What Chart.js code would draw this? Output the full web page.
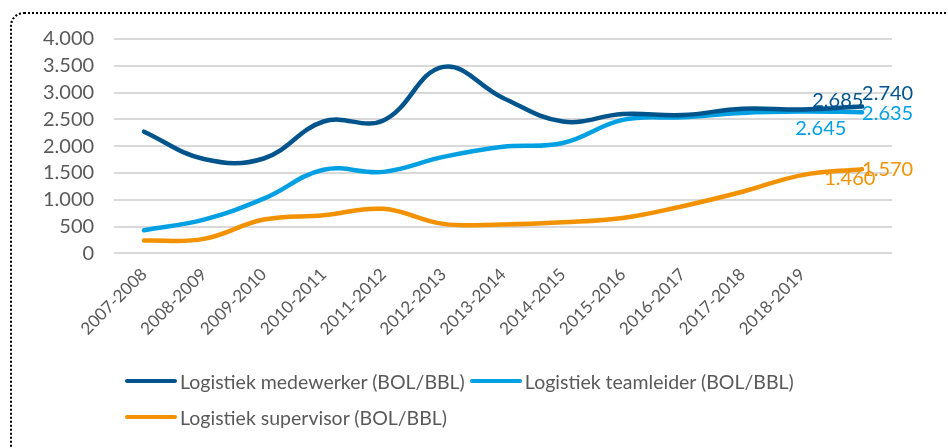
<!DOCTYPE html>
<html>
<head>
<meta charset="utf-8">
<script src="https://cdn.jsdelivr.net/npm/chart.js@4.4.1/dist/chart.umd.min.js"></script>
<style>
  html, body { margin: 0; padding: 0; background: #fff; }
  body { width: 948px; height: 448px; overflow: hidden; position: relative; font-family: Lato, sans-serif; }
  #frame { position: absolute; left: 10px; top: 12px; width: 980px; height: 480px;
           border: 2px dotted #000; border-radius: 14px; box-sizing: border-box; }
  #wrap { position: absolute; left: 0; top: 0; width: 948px; height: 448px; }
  #legend { position: absolute; left: 125px; top: 364px; width: 740px; color: #595959; font-size: 19.5px; }
  .item { display: inline-flex; align-items: center; height: 26px; margin-bottom: 6px; }
  .item i { display: inline-block; width: 52px; height: 4px; border-radius: 2px; margin-right: 3px; }
</style>
</head>
<body>
<div id="frame"></div>
<div id="wrap"><canvas id="lineChart"></canvas></div>
<div id="legend"></div>
<script>
const years = ['2007-2008', '2008-2009', '2009-2010', '2010-2011', '2011-2012', '2012-2013',
    '2013-2014', '2014-2015', '2015-2016', '2016-2017', '2017-2018', '2018-2019', ''];
const medewerker = [2270, 1760, 1770, 2460, 2480, 3480, 2900, 2460, 2600, 2580, 2700, 2685, 2740];
const teamleider = [430, 630, 1020, 1560, 1520, 1800, 1990, 2060, 2490, 2540, 2620, 2645, 2635];
const supervisor = [240, 270, 630, 710, 830, 550, 540, 580, 660, 880, 1150, 1460, 1570];
const seriesNames = ['Logistiek medewerker (BOL/BBL)', 'Logistiek teamleider (BOL/BBL)', 'Logistiek supervisor (BOL/BBL)'];
const yTicks = [0, 500, 1000, 1500, 2000, 2500, 3000, 3500, 4000];

const colors = ['#00548c', '#00a0e3', '#f39200'];
// where the value labels sit next to the last two points [dx, dy]
const labelOffsets = [
    [[10, -9], [0, -13]],
    [[-7, 17], [0, 1]],
    [[22, 3], [0, 0]]
];

const fmt = v => Math.round(v).toString().replace(/\B(?=(\d{3})+(?!\d))/g, '.');

const valueLabels = {
    id: 'valueLabels',
    afterDatasetsDraw(chart) {
        const ctx = chart.ctx;
        ctx.save();
        ctx.font = '20px Lato';
        ctx.textAlign = 'left';
        ctx.textBaseline = 'middle';
        chart.data.datasets.forEach((ds, i) => {
            const meta = chart.getDatasetMeta(i);
            const n = ds.data.length;
            [n - 2, n - 1].forEach((j, k) => {
                const pt = meta.data[j];
                ctx.fillStyle = ds.borderColor;
                ctx.fillText(fmt(ds.data[j]), pt.x + labelOffsets[i][k][0], pt.y + labelOffsets[i][k][1]);
            });
        });
        ctx.restore();
    }
};

const ctx = document.getElementById('lineChart').getContext('2d');
const chart = new Chart(ctx, {
    type: 'line',
    data: {
        labels: years,
        datasets: [medewerker, teamleider, supervisor].map((d, i) => ({
            label: seriesNames[i],
            data: d,
            borderColor: colors[i],
            backgroundColor: colors[i],
            borderWidth: 4.5,
            pointRadius: 0,
            tension: 0.4,
            borderCapStyle: 'round'
        }))
    },
    options: {
        responsive: true,
        maintainAspectRatio: false,
        animation: false,
        layout: { padding: { left: 23, top: 39, right: 56, bottom: 106 } },
        plugins: {
            legend: { display: false },
            tooltip: { enabled: false }
        },
        scales: {
            x: {
                offset: true,
                grid: { display: false },
                border: { display: false },
                ticks: {
                    color: '#595959',
                    font: { family: 'Lato', size: 17 },
                    maxRotation: 45,
                    minRotation: 45,
                    autoSkip: false
                }
            },
            y: {
                min: 0,
                max: 4000,
                afterBuildTicks: axis => { axis.ticks = yTicks.map(v => ({ value: v })); },
                grid: { color: '#d9d9d9', lineWidth: 2, drawTicks: false },
                border: { display: false },
                ticks: {
                    color: '#595959',
                    padding: 20,
                    autoSkip: false,
                    font: { family: 'Lato', size: 20 },
                    callback: v => fmt(v)
                }
            }
        }
    },
    plugins: [valueLabels]
});

const legendDiv = document.getElementById('legend');
chart.data.datasets.forEach((ds, i) => {
    legendDiv.innerHTML += `<span class="item"><i style="background:${ds.borderColor}"></i>${ds.label}</span>`;
    if (i === 0) legendDiv.innerHTML += ' ';
});
</script>
</body>
</html>
